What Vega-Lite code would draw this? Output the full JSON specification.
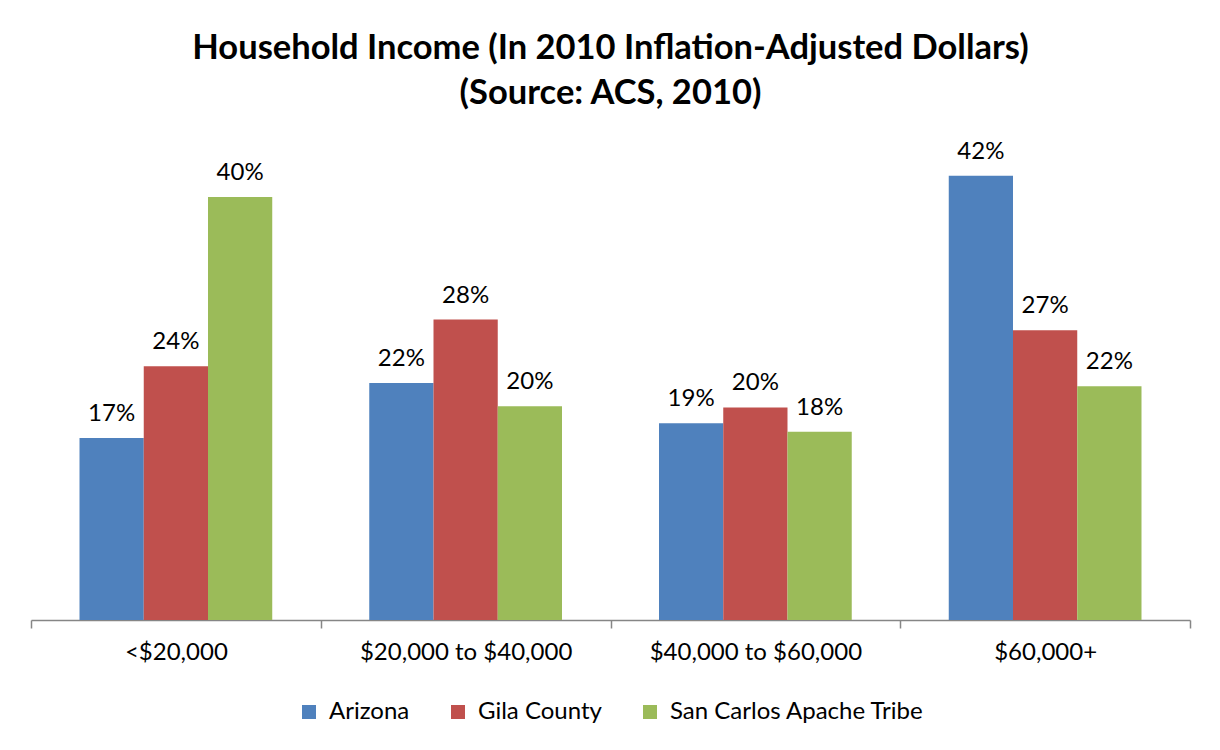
{
  "$schema": "https://vega.github.io/schema/vega-lite/v6.json",
  "width": 1159,
  "height": 476,
  "autosize": {"type": "none"},
  "padding": {"left": 31, "right": 30, "top": 144, "bottom": 130},
  "background": "white",
  "title": {
    "text": ["Household Income (In 2010 Inflation-Adjusted Dollars)", "(Source: ACS, 2010)"],
    "font": "Lato",
    "fontSize": 34.5,
    "fontWeight": "bold",
    "color": "black",
    "lineHeight": 45,
    "anchor": "middle",
    "offset": 28
  },
  "data": {
    "values": [
      {"income": "<$20,000", "area": "Arizona", "share": 0.172},
      {"income": "<$20,000", "area": "Gila County", "share": 0.240},
      {"income": "<$20,000", "area": "San Carlos Apache Tribe", "share": 0.400},
      {"income": "$20,000 to $40,000", "area": "Arizona", "share": 0.224},
      {"income": "$20,000 to $40,000", "area": "Gila County", "share": 0.284},
      {"income": "$20,000 to $40,000", "area": "San Carlos Apache Tribe", "share": 0.202},
      {"income": "$40,000 to $60,000", "area": "Arizona", "share": 0.186},
      {"income": "$40,000 to $60,000", "area": "Gila County", "share": 0.201},
      {"income": "$40,000 to $60,000", "area": "San Carlos Apache Tribe", "share": 0.178},
      {"income": "$60,000+", "area": "Arizona", "share": 0.420},
      {"income": "$60,000+", "area": "Gila County", "share": 0.274},
      {"income": "$60,000+", "area": "San Carlos Apache Tribe", "share": 0.221}
    ]
  },
  "encoding": {
    "x": {
      "field": "income",
      "type": "nominal",
      "sort": null,
      "title": null,
      "scale": {"paddingInner": 0, "paddingOuter": 0},
      "axis": {
        "labelAngle": 0,
        "labelFont": "Lato",
        "labelFontSize": 24,
        "labelColor": "black",
        "labelPadding": 12,
        "labelLimit": 400,
        "tickBand": "extent",
        "tickSize": 8,
        "tickColor": "#868686",
        "domainColor": "#868686",
        "domainWidth": 1.5,
        "tickWidth": 1.5,
        "grid": false
      }
    },
    "xOffset": {
      "field": "area",
      "type": "nominal",
      "sort": ["Arizona", "Gila County", "San Carlos Apache Tribe"],
      "scale": {"paddingInner": 0, "paddingOuter": 0.755}
    },
    "y": {
      "field": "share",
      "type": "quantitative",
      "scale": {"domain": [0, 0.45]},
      "axis": null
    }
  },
  "layer": [
    {
      "mark": {"type": "bar"},
      "encoding": {
        "color": {
          "field": "area",
          "type": "nominal",
          "sort": ["Arizona", "Gila County", "San Carlos Apache Tribe"],
          "scale": {
            "domain": ["Arizona", "Gila County", "San Carlos Apache Tribe"],
            "range": ["#4F81BD", "#C0504D", "#9BBB59"]
          },
          "legend": {
            "orient": "bottom",
            "direction": "horizontal",
            "title": null,
            "symbolType": "square",
            "symbolSize": 196,
            "symbolStrokeWidth": 0,
            "labelFont": "Lato",
            "labelFontSize": 24,
            "labelColor": "black",
            "labelLimit": 400,
            "labelOffset": 8,
            "columnPadding": 36,
            "offset": 36
          }
        }
      }
    },
    {
      "mark": {"type": "text", "baseline": "bottom", "dy": -12, "font": "Lato", "fontSize": 24, "color": "black"},
      "encoding": {
        "text": {"field": "share", "type": "quantitative", "format": ".0%"}
      }
    }
  ],
  "config": {
    "view": {"stroke": null},
    "legend": {"layout": {"bottom": {"anchor": "middle"}}}
  }
}
